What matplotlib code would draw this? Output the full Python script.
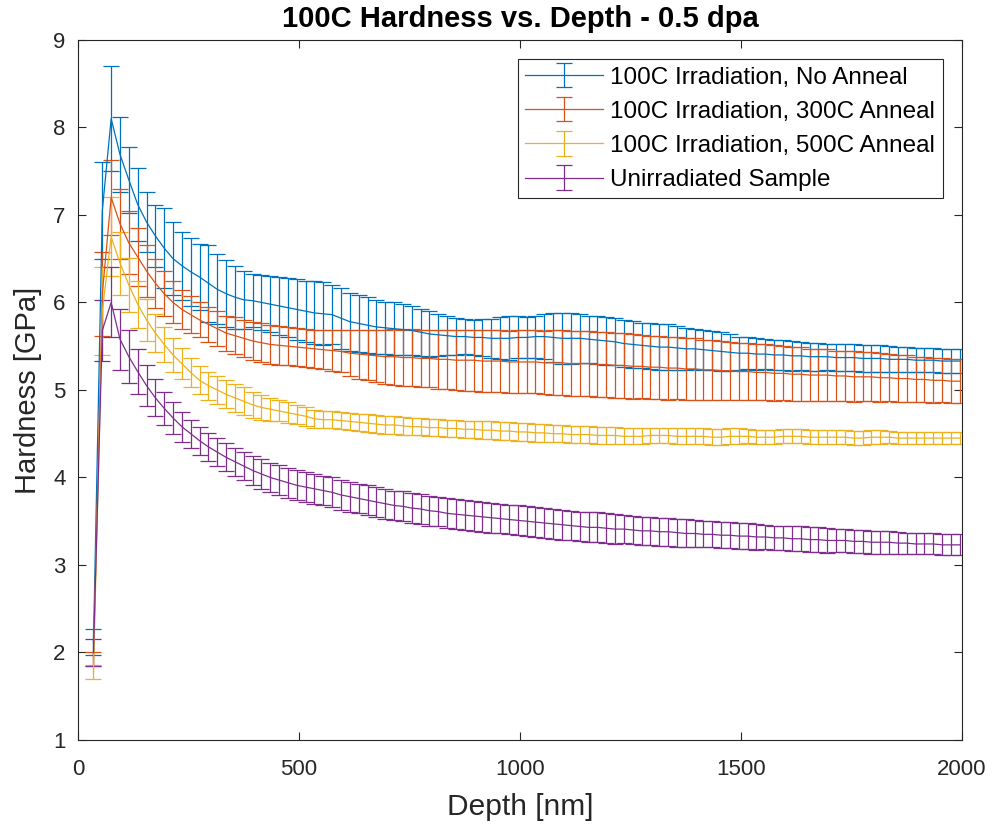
import numpy as np
import matplotlib
matplotlib.use("Agg")
import matplotlib.pyplot as plt

plt.rcParams['font.family'] = ['Liberation Sans', 'DejaVu Sans']

# depth [nm], one indent step every 20 nm
depth = np.arange(35, 2000, 20)

labels = ['100C Irradiation, No Anneal', '100C Irradiation, 300C Anneal',
          '100C Irradiation, 500C Anneal', 'Unirradiated Sample']
colors = ['#0072BD', '#D95319', '#EDB120', '#7E2F8E']

no_anneal = [2.12, 7.05, 8.10, 7.69, 7.40, 7.12, 6.92, 6.76, 6.62, 6.50,
             6.42, 6.35, 6.29, 6.22, 6.15, 6.10, 6.06, 6.03, 6.02, 6.00,
             5.98, 5.96, 5.94, 5.92, 5.90, 5.88, 5.87, 5.86, 5.82, 5.78,
             5.76, 5.74, 5.72, 5.71, 5.70, 5.69, 5.68, 5.66, 5.64, 5.63,
             5.62, 5.61, 5.61, 5.60, 5.60, 5.59, 5.59, 5.59, 5.60, 5.60,
             5.61, 5.61, 5.60, 5.59, 5.59, 5.59, 5.58, 5.57, 5.56, 5.55,
             5.53, 5.52, 5.51, 5.50, 5.49, 5.49, 5.48, 5.47, 5.47, 5.46,
             5.45, 5.44, 5.43, 5.42, 5.42, 5.41, 5.41, 5.40, 5.40, 5.39,
             5.39, 5.38, 5.38, 5.38, 5.37, 5.37, 5.37, 5.36, 5.36, 5.36,
             5.35, 5.35, 5.35, 5.34, 5.34, 5.34, 5.33, 5.33, 5.33]
no_anneal_err = [0.15, 0.55, 0.60, 0.43, 0.38, 0.42, 0.34, 0.35, 0.46, 0.42,
                 0.39, 0.39, 0.38, 0.44, 0.40, 0.38, 0.36, 0.33, 0.30, 0.31,
                 0.32, 0.33, 0.34, 0.35, 0.35, 0.36, 0.36, 0.34, 0.35, 0.33,
                 0.33, 0.32, 0.31, 0.30, 0.30, 0.29, 0.28, 0.27, 0.26, 0.24,
                 0.22, 0.21, 0.20, 0.20, 0.21, 0.22, 0.24, 0.25, 0.24, 0.23,
                 0.24, 0.26, 0.28, 0.29, 0.29, 0.28, 0.27, 0.27, 0.27, 0.27,
                 0.27, 0.27, 0.26, 0.26, 0.26, 0.26, 0.25, 0.24, 0.23, 0.23,
                 0.22, 0.22, 0.21, 0.19, 0.18, 0.18, 0.17, 0.17, 0.17, 0.17,
                 0.16, 0.16, 0.16, 0.15, 0.15, 0.15, 0.15, 0.15, 0.15, 0.15,
                 0.15, 0.14, 0.14, 0.14, 0.14, 0.14, 0.14, 0.14, 0.14]

anneal_300 = [1.93, 6.10, 7.20, 6.90, 6.68, 6.52, 6.36, 6.22, 6.10, 6.00,
              5.92, 5.86, 5.80, 5.75, 5.70, 5.65, 5.62, 5.59, 5.56, 5.54,
              5.52, 5.51, 5.50, 5.49, 5.48, 5.47, 5.46, 5.45, 5.44, 5.42,
              5.41, 5.40, 5.39, 5.38, 5.38, 5.37, 5.37, 5.36, 5.36, 5.35,
              5.35, 5.34, 5.34, 5.34, 5.33, 5.33, 5.33, 5.32, 5.32, 5.32,
              5.32, 5.31, 5.31, 5.31, 5.30, 5.30, 5.30, 5.29, 5.29, 5.28,
              5.28, 5.27, 5.27, 5.26, 5.26, 5.25, 5.25, 5.24, 5.24, 5.23,
              5.23, 5.22, 5.22, 5.21, 5.21, 5.20, 5.20, 5.19, 5.19, 5.18,
              5.18, 5.17, 5.17, 5.17, 5.16, 5.16, 5.15, 5.15, 5.15, 5.14,
              5.14, 5.13, 5.13, 5.12, 5.12, 5.11, 5.11, 5.10, 5.10]
anneal_300_err = [0.08, 0.48, 0.43, 0.40, 0.36, 0.33, 0.30, 0.28, 0.26, 0.24,
                  0.22, 0.21, 0.20, 0.20, 0.20, 0.20, 0.21, 0.21, 0.22, 0.22,
                  0.22, 0.22, 0.22, 0.22, 0.22, 0.22, 0.22, 0.23, 0.24, 0.26,
                  0.28, 0.29, 0.30, 0.31, 0.32, 0.32, 0.33, 0.33, 0.33, 0.34,
                  0.34, 0.34, 0.35, 0.35, 0.35, 0.35, 0.35, 0.35, 0.36, 0.36,
                  0.36, 0.36, 0.37, 0.37, 0.37, 0.37, 0.37, 0.37, 0.37, 0.37,
                  0.37, 0.37, 0.36, 0.36, 0.36, 0.36, 0.35, 0.35, 0.35, 0.34,
                  0.34, 0.34, 0.33, 0.33, 0.33, 0.32, 0.32, 0.32, 0.31, 0.31,
                  0.31, 0.30, 0.30, 0.30, 0.29, 0.29, 0.29, 0.28, 0.28, 0.28,
                  0.27, 0.27, 0.27, 0.26, 0.26, 0.26, 0.25, 0.25, 0.25]

anneal_500 = [1.78, 5.90, 6.75, 6.45, 6.20, 5.98, 5.80, 5.65, 5.52, 5.40,
              5.30, 5.20, 5.11, 5.05, 5.00, 4.95, 4.91, 4.87, 4.83, 4.80,
              4.78, 4.76, 4.74, 4.72, 4.70, 4.67, 4.66, 4.66, 4.65, 4.64,
              4.63, 4.62, 4.61, 4.60, 4.60, 4.59, 4.58, 4.58, 4.57, 4.57,
              4.56, 4.56, 4.55, 4.55, 4.54, 4.54, 4.53, 4.53, 4.52, 4.52,
              4.51, 4.51, 4.50, 4.50, 4.49, 4.49, 4.49, 4.48, 4.48, 4.48,
              4.47, 4.47, 4.47, 4.48, 4.48, 4.48, 4.47, 4.47, 4.47, 4.47,
              4.46, 4.46, 4.47, 4.47, 4.47, 4.46, 4.46, 4.46, 4.47, 4.47,
              4.47, 4.46, 4.46, 4.46, 4.46, 4.46, 4.45, 4.45, 4.46, 4.46,
              4.46, 4.45, 4.45, 4.45, 4.45, 4.45, 4.45, 4.45, 4.45]
anneal_500_err = [0.08, 0.50, 0.45, 0.36, 0.31, 0.27, 0.24, 0.22, 0.20, 0.19,
                  0.18, 0.17, 0.16, 0.16, 0.16, 0.16, 0.16, 0.16, 0.15, 0.14,
                  0.13, 0.12, 0.12, 0.11, 0.11, 0.10, 0.10, 0.10, 0.10, 0.10,
                  0.10, 0.10, 0.10, 0.10, 0.10, 0.10, 0.10, 0.10, 0.10, 0.10,
                  0.10, 0.10, 0.10, 0.10, 0.10, 0.10, 0.10, 0.10, 0.10, 0.10,
                  0.10, 0.10, 0.10, 0.10, 0.10, 0.10, 0.10, 0.10, 0.10, 0.10,
                  0.09, 0.09, 0.09, 0.09, 0.09, 0.09, 0.09, 0.09, 0.09, 0.09,
                  0.09, 0.09, 0.09, 0.09, 0.08, 0.08, 0.08, 0.08, 0.08, 0.08,
                  0.08, 0.08, 0.08, 0.08, 0.08, 0.08, 0.08, 0.08, 0.08, 0.08,
                  0.07, 0.07, 0.07, 0.07, 0.07, 0.07, 0.07, 0.07, 0.07]

unirradiated = [2.00, 5.68, 6.00, 5.58, 5.38, 5.21, 5.05, 4.91, 4.79, 4.68,
                4.58, 4.50, 4.42, 4.35, 4.29, 4.23, 4.18, 4.13, 4.08, 4.04,
                4.00, 3.97, 3.94, 3.91, 3.89, 3.87, 3.85, 3.83, 3.80, 3.78,
                3.76, 3.74, 3.72, 3.70, 3.68, 3.67, 3.65, 3.64, 3.62, 3.61,
                3.59, 3.58, 3.57, 3.56, 3.55, 3.54, 3.53, 3.52, 3.51, 3.50,
                3.49, 3.48, 3.47, 3.46, 3.45, 3.44, 3.43, 3.43, 3.42, 3.41,
                3.41, 3.40, 3.39, 3.39, 3.38, 3.38, 3.37, 3.36, 3.36, 3.35,
                3.35, 3.34, 3.34, 3.33, 3.33, 3.32, 3.32, 3.31, 3.31, 3.30,
                3.30, 3.29, 3.29, 3.28, 3.28, 3.28, 3.27, 3.27, 3.26, 3.26,
                3.26, 3.25, 3.25, 3.24, 3.24, 3.24, 3.23, 3.23, 3.23]
unirradiated_err = [0.15, 0.35, 0.40, 0.35, 0.30, 0.26, 0.23, 0.21, 0.19, 0.18,
                    0.17, 0.16, 0.16, 0.16, 0.16, 0.16, 0.16, 0.16, 0.17, 0.17,
                    0.17, 0.17, 0.17, 0.17, 0.17, 0.17, 0.17, 0.17, 0.17, 0.17,
                    0.17, 0.17, 0.17, 0.17, 0.17, 0.17, 0.17, 0.17, 0.17, 0.17,
                    0.17, 0.17, 0.17, 0.17, 0.17, 0.17, 0.17, 0.17, 0.17, 0.17,
                    0.17, 0.17, 0.17, 0.17, 0.17, 0.17, 0.17, 0.17, 0.17, 0.17,
                    0.16, 0.16, 0.16, 0.16, 0.16, 0.16, 0.16, 0.16, 0.15, 0.15,
                    0.15, 0.15, 0.15, 0.15, 0.15, 0.15, 0.14, 0.14, 0.14, 0.14,
                    0.14, 0.14, 0.14, 0.14, 0.13, 0.13, 0.13, 0.13, 0.13, 0.13,
                    0.13, 0.13, 0.12, 0.12, 0.12, 0.12, 0.12, 0.12, 0.12]

series = [(no_anneal, no_anneal_err), (anneal_300, anneal_300_err),
          (anneal_500, anneal_500_err), (unirradiated, unirradiated_err)]

fig = plt.figure(figsize=(10, 8.31), dpi=100)
ax = fig.add_axes([0.078, 0.1095, 0.884, 0.8425])

for (vals, errs), c, lab in zip(series, colors, labels):
    ax.errorbar(depth, vals, yerr=errs, color=c, lw=0.9, elinewidth=0.9,
                capsize=6, capthick=0.9, label=lab)

ax.set_xlim(0, 2000)
ax.set_ylim(1, 9)
ax.set_xticks([0, 500, 1000, 1500, 2000])
ax.set_yticks(range(1, 10))
ax.tick_params(direction='in', top=True, right=True, labelsize=16,
               colors='#262626', length=6, width=0.8)
ax.tick_params(axis='x', pad=14)
ax.tick_params(axis='y', pad=9)
for s in ax.spines.values():
    s.set_color('#262626')
    s.set_linewidth(0.8)

ax.set_xlabel('Depth [nm]', fontsize=21.5, color='#262626', labelpad=9)
ax.set_ylabel('Hardness [GPa]', fontsize=21, color='#262626', labelpad=8)
ax.set_title('100C Hardness vs. Depth - 0.5 dpa', fontsize=21,
             fontweight='bold', color='black', pad=9)

leg = ax.legend(loc='upper right', fontsize=17.5, fancybox=False,
                edgecolor='#262626', framealpha=1, borderaxespad=0.8,
                handlelength=3.2, handletextpad=0.3, borderpad=0.3,
                labelspacing=0.5)
leg.get_frame().set_linewidth(0.8)

fig.savefig('out.png', dpi=100)
